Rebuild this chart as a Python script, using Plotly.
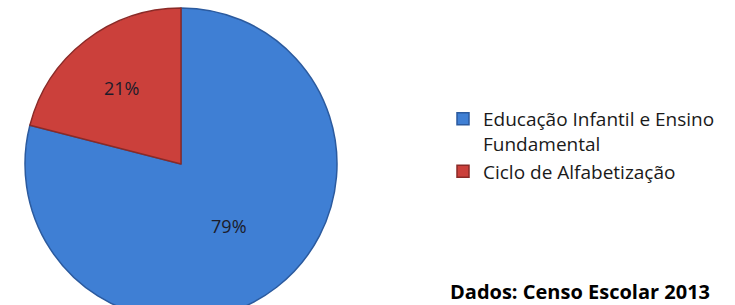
import plotly.graph_objects as go

labels = ["Educação Infantil e Ensino<br>Fundamental", "Ciclo de Alfabetização"]
values = [79, 21]
colors = ["#3f7fd4", "#cb403b"]
line_colors = ["#2b5a9e", "#8a2a27"]
source_text = "Dados: Censo Escolar 2013"

W = 735
TOP = 8          # px above the pie
R = 156          # pie radius in px
CX = 181         # pie centre x in px
H = TOP + 2 * R  # figure taller than the window; the bottom is cut like in the reference


def py(p):
    """page y pixel -> paper y"""
    return (H - p) / (2 * R)


fig = go.Figure()
fig.add_trace(go.Pie(
    labels=labels,
    values=values,
    sort=False,
    direction="clockwise",
    rotation=0,
    marker=dict(colors=colors, line=dict(color=line_colors, width=1.5)),
    texttemplate="%{percent:.0%}",
    textposition="inside",
    insidetextorientation="horizontal",
    textfont=dict(family="Open Sans", size=18, color="#1c1c2a"),
    domain=dict(x=[(CX - R) / W, (CX + R) / W], y=[0, 1]),
    hoverinfo="label+percent",
))

fig.update_layout(
    width=W, height=H,
    margin=dict(l=0, r=0, t=TOP, b=0),
    paper_bgcolor="white",
    plot_bgcolor="white",
    showlegend=True,
    legend=dict(
        x=443 / W, xanchor="left",
        y=py(100), yanchor="top",
        valign="top",
        font=dict(family="Open Sans", size=19, color="#1a1a1a"),
        bgcolor="rgba(0,0,0,0)",
    ),
    annotations=[dict(
        text="<b>" + source_text + "</b>",
        x=448 / W, xref="paper", xanchor="left",
        y=py(291), yref="paper", yanchor="middle",
        showarrow=False,
        font=dict(family="Open Sans", size=20, color="#000000"),
    )],
)

fig.write_html(
    "out.html",
    config={"displayModeBar": False},
    post_script="document.body.style.margin='0';document.body.style.overflow='hidden';",
)
